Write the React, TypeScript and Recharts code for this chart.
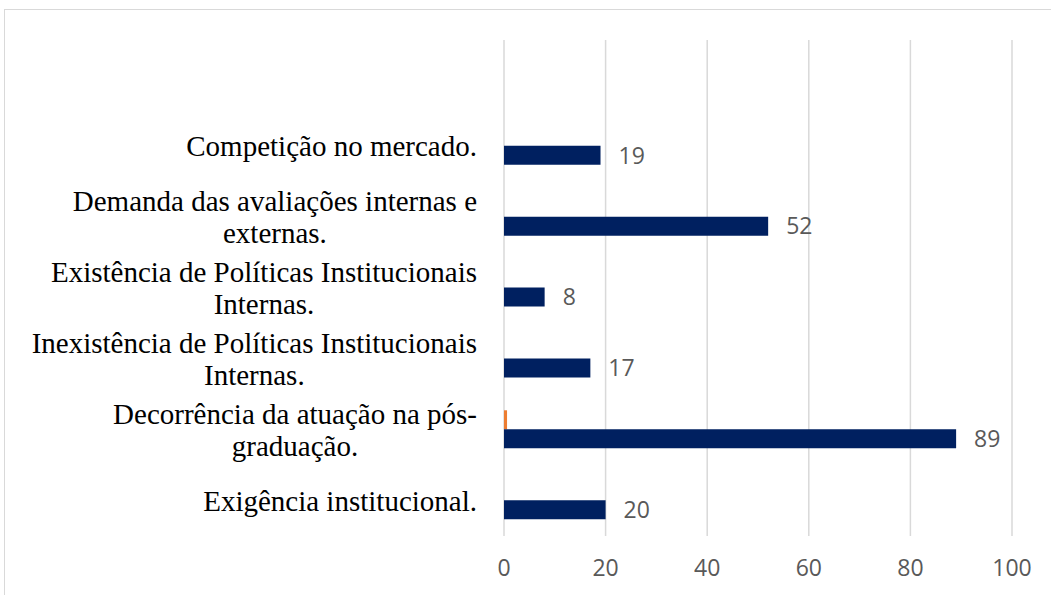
import React from "react";
import { BarChart, Bar, XAxis, YAxis, CartesianGrid, LabelList } from "recharts";

const categories = [
  "",
  "Competição no mercado.",
  "Demanda das avaliações internas e\nexternas.",
  "Existência de Políticas Institucionais\nInternas.",
  "Inexistência de Políticas Institucionais\nInternas.",
  "Decorrência da atuação na pós-\ngraduação.",
  "Exigência institucional.",
];
const seriesOrange = [null, null, null, null, null, 0.6, null];
const seriesNavy = [null, 19, 52, 8, 17, 89, 20];
const xTicks = [0, 20, 40, 60, 80, 100];

const data = categories.map((c, i) => ({
  name: c,
  orange: seriesOrange[i],
  navy: seriesNavy[i],
}));

const SERIF = "'Liberation Serif', 'Times New Roman', serif";
const SERIF_SIZE = 29;

let measureCtx: CanvasRenderingContext2D | null = null;
function measure(text: string): number {
  if (!measureCtx) {
    const c = document.createElement("canvas");
    measureCtx = c.getContext("2d");
  }
  if (!measureCtx) return text.length * 13;
  measureCtx.font = `${SERIF_SIZE}px ${SERIF}`;
  return measureCtx.measureText(text).width;
}

const CategoryTick = (props: any) => {
  const { y, payload } = props;
  const text: string = payload.value || "";
  if (!text) return null;
  const lines = text.split("\n");
  const style = { fontFamily: SERIF, fontSize: SERIF_SIZE };
  const right = 477;
  if (lines.length === 1) {
    return (
      <text x={right} y={y} textAnchor="end" dominantBaseline="central" fill="#000" style={style}>
        {lines[0]}
      </text>
    );
  }
  const cx = right - measure(lines[0]) / 2;
  return (
    <g>
      <text x={right} y={y - 16} textAnchor="end" dominantBaseline="central" fill="#000" style={style}>
        {lines[0]}
      </text>
      <text x={cx} y={y + 16} textAnchor="middle" dominantBaseline="central" fill="#000" style={style}>
        {lines[1]}
      </text>
    </g>
  );
};

const ValueTick = (props: any) => {
  const { x, payload } = props;
  return (
    <text
      x={x}
      y={567}
      textAnchor="middle"
      dominantBaseline="central"
      fill="#595959"
      style={{ fontFamily: "'Open Sans', sans-serif", fontSize: 23 }}
    >
      {payload.value}
    </text>
  );
};

export default function App() {
  return (
    <div style={{ position: "absolute", left: 0, top: 0, width: 1051, height: 595, overflow: "hidden", background: "#fff" }}>
      <div
        style={{
          position: "absolute",
          left: 4,
          top: 9,
          width: 1200,
          height: 800,
          border: "1.5px solid #d9d9d9",
        }}
      />
      <div style={{ position: "absolute", left: 0, top: 0 }}>
        <BarChart
          width={1051}
          height={595}
          data={data}
          layout="vertical"
          margin={{ top: 40, right: 39, bottom: 0, left: 0 }}
          barGap={0}
          barSize={19}
        >
          <CartesianGrid horizontal={false} stroke="#d9d9d9" strokeWidth={1.5} />
          <XAxis
            type="number"
            domain={[0, 100]}
            ticks={xTicks}
            axisLine={false}
            tickLine={false}
            height={59}
            tick={<ValueTick />}
            interval={0}
          />
          <YAxis
            type="category"
            dataKey="name"
            width={504}
            axisLine={false}
            tickLine={false}
            tick={<CategoryTick />}
            interval={0}
          />
          <Bar dataKey="orange" fill="#ED7D31" isAnimationActive={false} />
          <Bar dataKey="navy" fill="#002060" isAnimationActive={false}>
            <LabelList
              dataKey="navy"
              position="right"
              offset={18}
              style={{ fontFamily: "'Open Sans', sans-serif", fontSize: 23, fill: "#595959" }}
            />
          </Bar>
        </BarChart>
      </div>
    </div>
  );
}
